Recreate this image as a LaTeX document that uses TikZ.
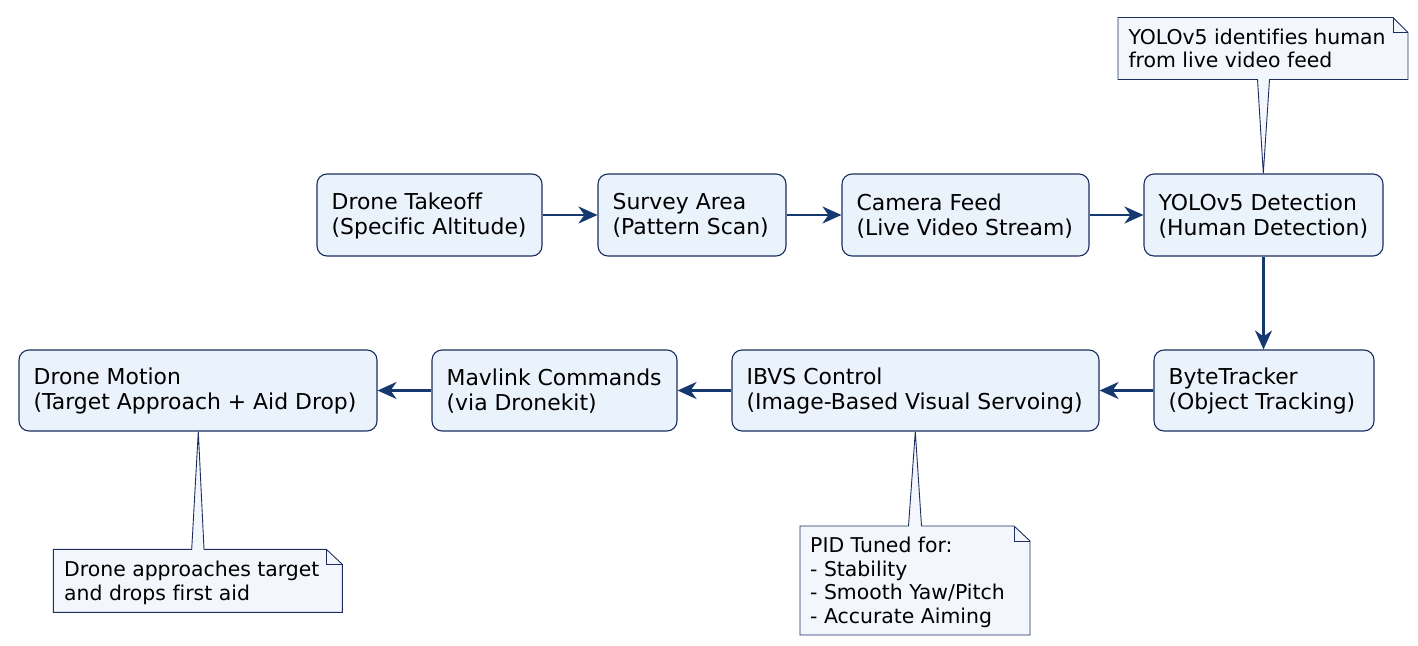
\documentclass[tikz,border=0pt]{standalone}
\usepackage{fontspec}
\setmainfont{DejaVu Sans}[Ligatures={NoCommon}]
\usetikzlibrary{arrows.meta}
\definecolor{boxfill}{RGB}{234,242,252}
\definecolor{boxline}{RGB}{28,46,96}
\definecolor{arrowc}{RGB}{22,56,112}
\definecolor{notefill}{RGB}{243,247,253}
\begin{document}
\begin{tikzpicture}[x=1pt,y=-1pt,
  flowbox/.style={draw=boxline, line width=1.1pt, fill=boxfill, rounded corners=10pt, minimum height=82pt, inner sep=0pt},
  boxtext/.style={anchor=west, align=left, inner sep=0pt, font=\fontsize{21.9}{25}\selectfont},
  notetext/.style={anchor=north west, align=left, inner sep=0pt, font=\fontsize{20.4}{23.5}\selectfont},
  noteshape/.style={draw=boxline, line width=0.9pt, fill=notefill, line join=miter},
  foldline/.style={draw=boxline, line width=0.9pt},
  flowarrow/.style={draw=arrowc, line width=2.5pt, -{Stealth[length=19pt, width=17pt, inset=6pt]}}
]
\useasboundingbox (0,0) rectangle (1418,645);

% top row
\node[flowbox, minimum width=225pt] (takeoff) at (429.5,215) {};
\node[boxtext] (takeoffT) at ([xshift=15pt,yshift=-0.8pt]takeoff.west) {Drone Takeoff\\(Specific Altitude)};
\node[flowbox, minimum width=188pt] (survey) at (692,215) {};
\node[boxtext] (surveyT) at ([xshift=15pt,yshift=-0.8pt]survey.west) {Survey Area\\(Pattern Scan)};
\node[flowbox, minimum width=247pt] (camera) at (965.5,215) {};
\node[boxtext] (cameraT) at ([xshift=15pt,yshift=-0.8pt]camera.west) {Camera Feed\\(Live Video Stream)};
\node[flowbox, minimum width=239pt] (yolo) at (1263.5,215) {};
\node[boxtext] (yoloT) at ([xshift=15pt,yshift=-0.8pt]yolo.west) {YOLOv5 Detection\\(Human Detection)};

% bottom row
\node[flowbox, minimum width=220pt, minimum height=81pt] (byte) at (1264,390.5) {};
\node[boxtext] (byteT) at ([xshift=15pt,yshift=-0.8pt]byte.west) {ByteTracker\\(Object Tracking)};
\node[flowbox, minimum width=367pt, minimum height=81pt] (ibvs) at (915.5,390.5) {};
\node[boxtext] (ibvsT) at ([xshift=15pt,yshift=-0.8pt]ibvs.west) {IBVS Control\\(Image-Based Visual Servoing)};
\node[flowbox, minimum width=245pt, minimum height=81pt] (mav) at (554.5,390.5) {};
\node[boxtext] (mavT) at ([xshift=15pt,yshift=-0.8pt]mav.west) {Mavlink Commands\\(via Dronekit)};
\node[flowbox, minimum width=358pt, minimum height=81pt] (motion) at (198,390.5) {};
\node[boxtext] (motionT) at ([xshift=15pt,yshift=-0.8pt]motion.west) {Drone Motion\\(Target Approach + Aid Drop)};

% arrows
\draw[flowarrow] (takeoff.east) -- (survey.west);
\draw[flowarrow] (survey.east) -- (camera.west);
\draw[flowarrow] (camera.east) -- (yolo.west);
\draw[flowarrow] (yolo.south) -- (yolo.south |- byte.north);
\draw[flowarrow] (byte.west) -- (ibvs.east);
\draw[flowarrow] (ibvs.west) -- (mav.east);
\draw[flowarrow] (mav.west) -- (motion.east);

% note: YOLO
\coordinate (yoloTip) at ([xshift=-0.2pt]yolo.north);
\path[noteshape] (1118,17.5) -- (1393,17.5) -- (1408,32.5) -- (1408,79.5) -- (1269.5,79.5) -- (yoloTip) -- (1257.5,79.5) -- (1118,79.5) -- cycle;
\path[foldline] (1393,17.5) -- (1393,32.5) -- (1408,32.5);
\node[notetext] (yoloNote) at (1128.3,28.7) {YOLOv5 identifies human\\from live video feed};

% note: PID
\coordinate (ibvsTip) at ([xshift=-0.2pt]ibvs.south);
\path[noteshape] (800,526) -- (908.5,526) -- (ibvsTip) -- (921.5,526) -- (1014,526) -- (1030,541) -- (1030,635) -- (800,635) -- cycle;
\path[foldline] (1014,526) -- (1014,541) -- (1030,541);
\node[notetext] (pidNote) at (810,536.8) {PID Tuned for:\\- Stability\\- Smooth Yaw/Pitch\\- Accurate Aiming};

% note: Drone motion
\coordinate (motionTip) at ([xshift=0.3pt]motion.south);
\path[noteshape] (53.3,549.3) -- (191.7,549.3) -- (motionTip) -- (204,549.3) -- (326.3,549.3) -- (342.3,564.3) -- (342.3,612.3) -- (53.3,612.3) -- cycle;
\path[foldline] (326.3,549.3) -- (326.3,564.3) -- (342.3,564.3);
\node[notetext] (motionNote) at (64,561.2) {Drone approaches target\\and drops first aid};
\end{tikzpicture}
\end{document}
